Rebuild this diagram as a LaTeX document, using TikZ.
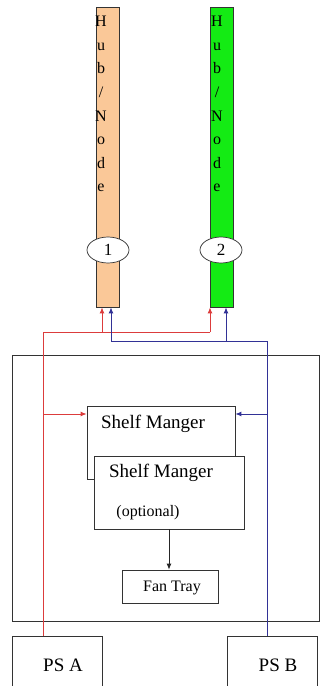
\documentclass[tikz,border=0pt]{standalone}
\usepackage{fontspec}
\setmainfont{Liberation Serif}
\usetikzlibrary{arrows.meta,shapes.geometric}
\definecolor{peach}{RGB}{250,200,152}
\definecolor{hubgreen}{RGB}{20,235,20}
\definecolor{lred}{RGB}{220,60,60}
\definecolor{lblue}{RGB}{50,50,150}
\tikzset{
  hubbox/.style={draw=black!80, line width=0.8pt, minimum width=23pt, minimum height=300pt, inner sep=0pt},
  hublabel/.style={ellipse, draw=black!80, fill=white, line width=0.7pt, minimum width=42pt, minimum height=26pt, inner sep=0pt, font=\fontsize{17}{17}\selectfont},
  hubtext/.style={align=center, inner sep=0pt, anchor=north, font=\fontsize{16}{23.6}\selectfont},
  box/.style={draw=black!80, fill=white, line width=0.8pt, inner sep=0pt},
  redline/.style={draw=lred, line width=0.9pt},
  blueline/.style={draw=lblue, line width=0.9pt},
  tip/.style={-{Latex[length=6pt,width=5pt]}},
  lbl/.style={inner sep=0pt}
}
\begin{document}
\begin{tikzpicture}[x=1pt,y=-1pt]
\useasboundingbox (0,0) rectangle (321,686);
\fill[white] (0,0) rectangle (321,686);
% shelf
\node[draw=black!80, line width=0.8pt, minimum width=307pt, minimum height=266pt, inner sep=0pt] (shelf) at (165.5,488) {};
% hubs
\node[hubbox, fill=peach] (hubA) at (107.5,157) {};
\node[hubbox, fill=hubgreen] (hubB) at (222,157) {};
\node[hubtext] (hubtxtA) at (101,16) {H\\u\\b\\/\\N\\o\\d\\e};
\node[hubtext] (hubtxtB) at (217,16) {H\\u\\b\\/\\N\\o\\d\\e};
\node[hublabel] (e1) at (108,250) {1};
\node[hublabel] (e2) at (221,250) {2};
% boxes
\node[box, minimum width=148pt, minimum height=73pt] (sm1) at (161,442.5) {};
\node[box, minimum width=150pt, minimum height=73pt] (sm2) at (169,492.5) {};
\node[box, minimum width=96pt, minimum height=33pt] (fan) at (170,586.5) {};
\node[box, minimum width=90pt, minimum height=56pt] (psa) at (57,664) {};
\node[box, minimum width=90pt, minimum height=56pt] (psb) at (272,664) {};
\node[lbl, font=\fontsize{19}{19}\selectfont] (t1) at (153,424) {Shelf Manger};
\node[lbl, font=\fontsize{19}{19}\selectfont] (t2) at (161,473) {Shelf Manger};
\node[lbl, font=\fontsize{16}{16}\selectfont] (t3) at (148,513) {(optional)};
\node[lbl, font=\fontsize{16}{16}\selectfont] (t4) at (172,588) {Fan Tray};
\node[lbl, font=\fontsize{19}{19}\selectfont] (t5) at (63,665) {PS A};
\node[lbl, font=\fontsize{19}{19}\selectfont] (t6) at (278,665) {PS B};
% coordinates
\coordinate (ra) at (43,636);
\coordinate (rb) at (43,332);
\coordinate (rc) at (210,332);
\coordinate (rd) at (102,332);
\coordinate (re) at (43,414);
\coordinate (ba) at (267,636);
\coordinate (bb) at (267,341);
\coordinate (bc) at (111,341);
\coordinate (bd) at (226,341);
\coordinate (be) at (267,414);
% red
\draw[redline] (psa.north -| ra) -- (rb) -- (rc);
\draw[redline, tip] (rc) -- (rc |- hubB.south);
\draw[redline, tip] (rd) -- (rd |- hubA.south);
\draw[redline, tip] (re) -- (re -| sm1.west);
% blue
\draw[blueline] (psb.north -| ba) -- (bb) -- (bc);
\draw[blueline, tip] (bc) -- (bc |- hubA.south);
\draw[blueline, tip] (bd) -- (bd |- hubB.south);
\draw[blueline, tip] (be) -- (be -| sm1.east);
% fan
\draw[black!85, line width=0.8pt, tip] (sm2.south -| t4.north) ++(-3,0) coordinate (fa) -- (fa |- fan.north);
\end{tikzpicture}
\end{document}
